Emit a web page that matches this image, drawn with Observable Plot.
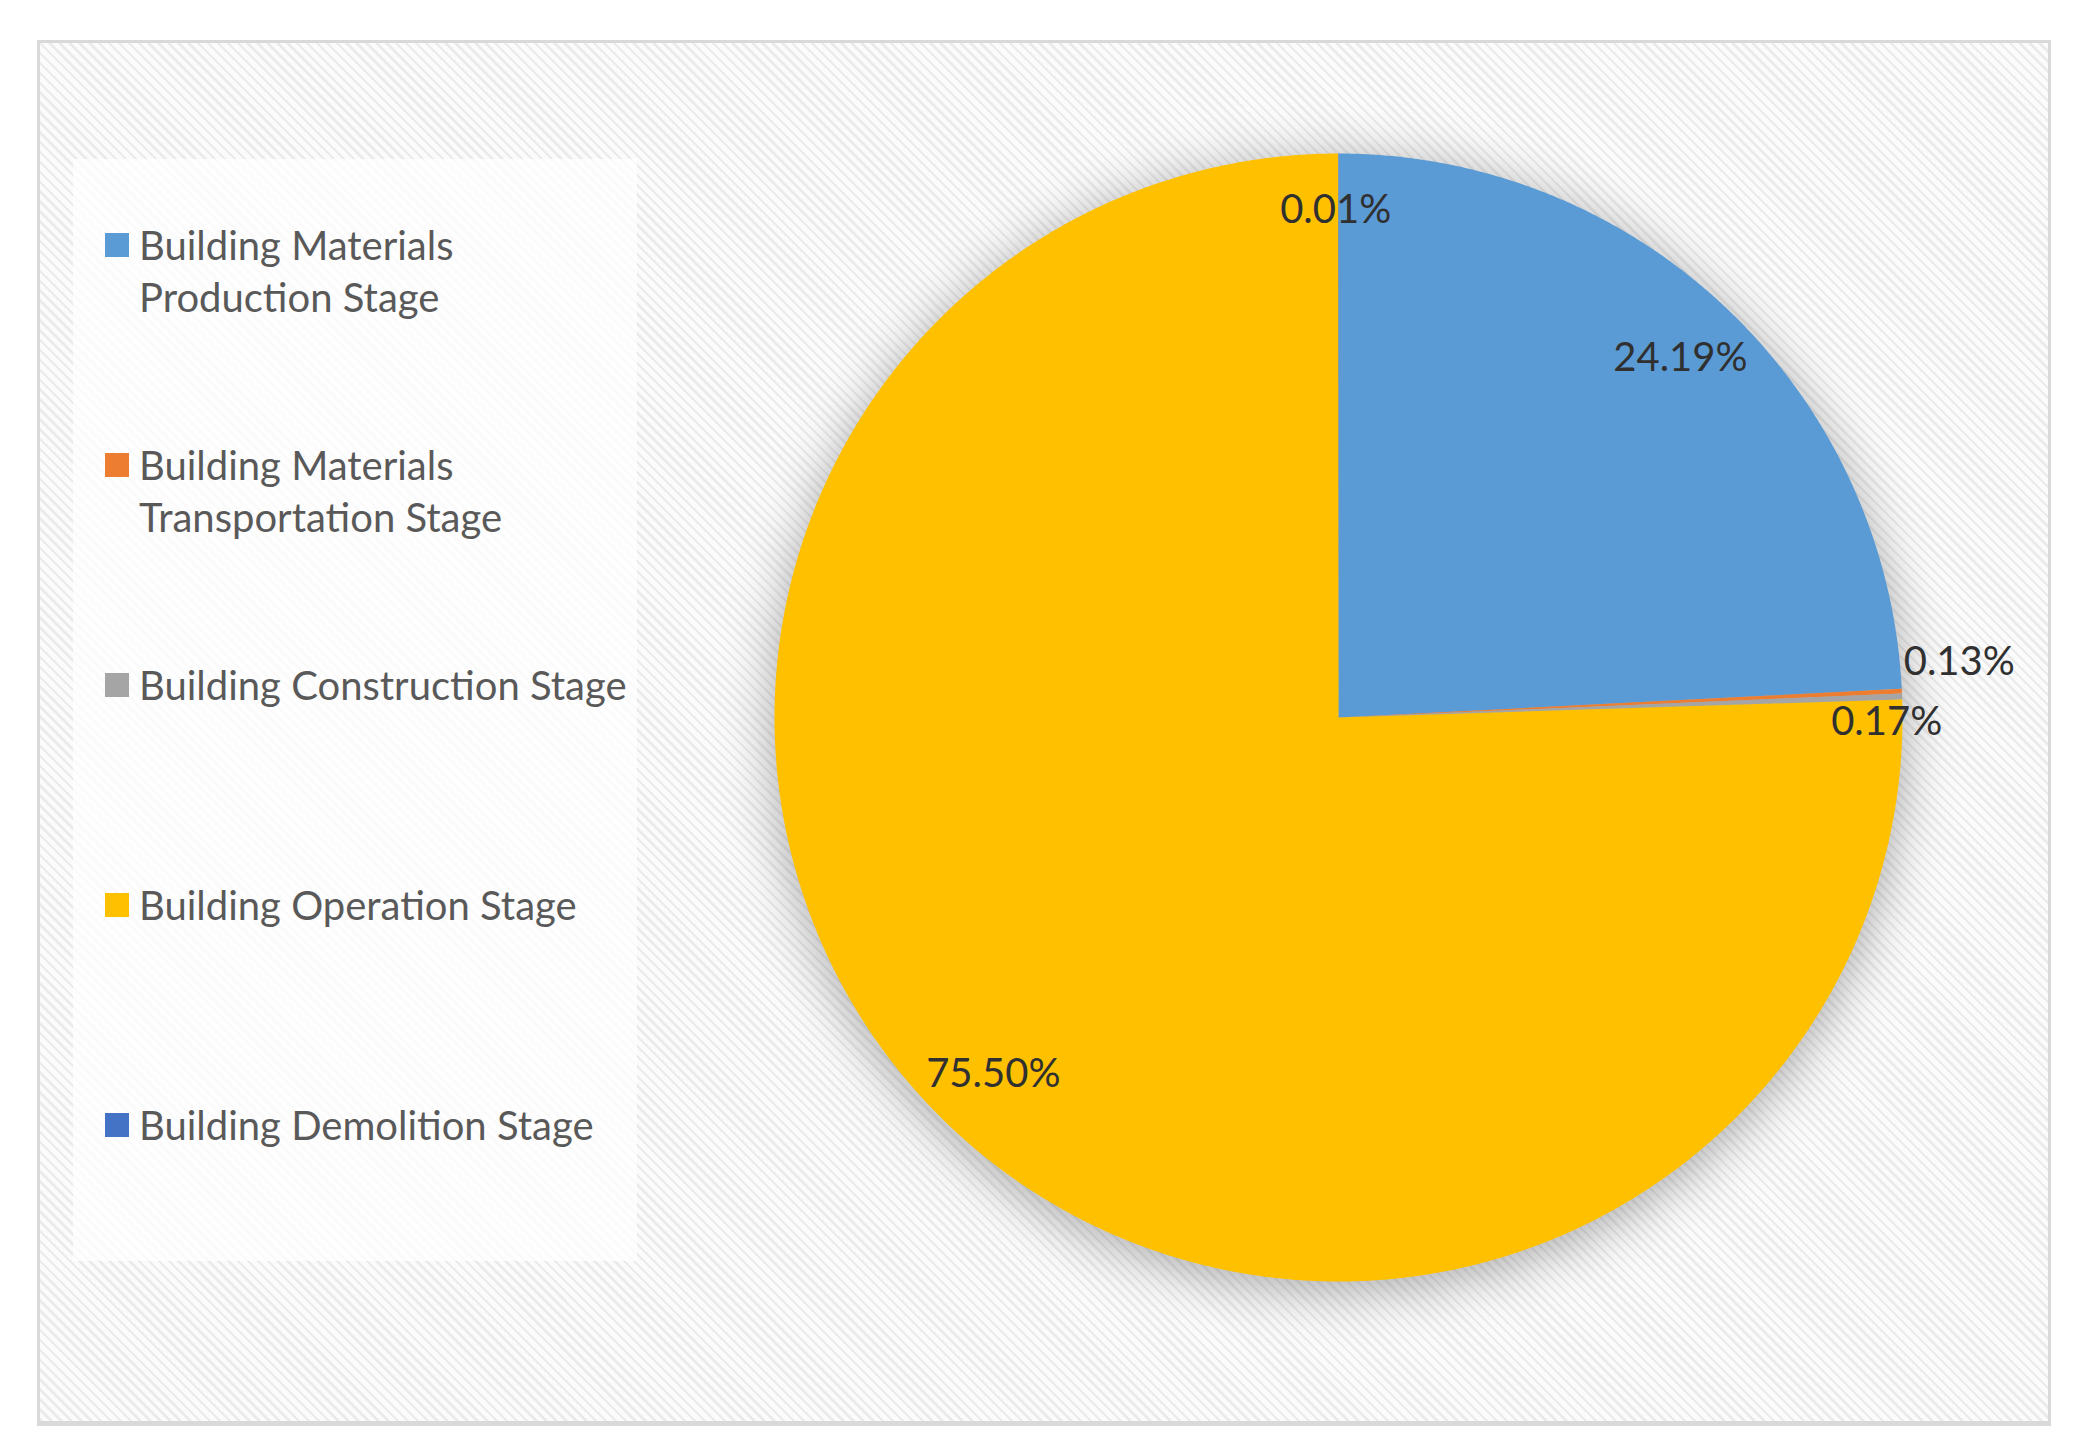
<!DOCTYPE html>
<html>
<head>
<meta charset="utf-8">
<script src="https://cdn.jsdelivr.net/npm/d3@7"></script>
<script src="https://cdn.jsdelivr.net/npm/@observablehq/plot@0.6"></script>
<style>
  html, body { margin: 0; padding: 0; background: #ffffff; }
  #page { position: relative; width: 2081px; height: 1456px; overflow: hidden; background: #fff; font-family: Lato, "Open Sans", sans-serif; }
  #frame {
    position: absolute; left: 37px; top: 40px; width: 2008px; height: 1378px;
    border: 3px solid #d9d9d9; border-bottom-width: 5px;
    background: repeating-linear-gradient(45deg, #ebebeb 0px, #ebebeb 2.5px, #fbfbfb 2.5px, #fbfbfb 7px);
  }
  #legendBox {
    position: absolute; left: 73px; top: 159px; width: 564px; height: 1102px;
    background: rgba(255,255,255,0.72);
  }
  .item { position: absolute; left: 0; width: 560px; }
  .sw { position: absolute; left: 32px; top: 14px; width: 24px; height: 24px; }
  .lab { position: absolute; left: 66px; width: 495px; font-size: 40px; line-height: 52px; color: #595959; }
  #chart { position: absolute; left: 0; top: 0; }
  #chart svg { overflow: visible; }
  #chart g[aria-label="line"] { filter: drop-shadow(0px 8px 26px rgba(0,0,0,0.33)); }
</style>
</head>
<body>
<div id="page">
  <div id="frame"></div>
  <div id="legendBox"></div>
  <div id="chart"></div>
</div>
<script>
// ---- data ----
const stages = [
  "Building Materials Production Stage",
  "Building Materials Transportation Stage",
  "Building Construction Stage",
  "Building Operation Stage",
  "Building Demolition Stage"
];
const shares = [24.19, 0.13, 0.17, 75.50, 0.01];
const colors = ["#5B9BD5", "#ED7D31", "#A5A5A5", "#FFC000", "#4472C4"];
// label placement style (radius factor, angular nudge in degrees)
const labelRadius = [0.88, 1.105, 0.972, 0.88, 0.9];
const labelShift = [0, -2.4, 2.6, 0, -0.3];

// ---- build slice outlines from the data ----
const total = d3.sum(shares);
const rows = [];
const labels = [];
let cum = 0;
stages.forEach((s, i) => {
  const a0 = cum / total * 2 * Math.PI;
  const a1 = (cum + shares[i]) / total * 2 * Math.PI;
  const n = Math.max(2, Math.ceil((a1 - a0) / (Math.PI / 720)));
  rows.push({stage: s, x: 0, y: 0});
  for (let k = 0; k <= n; k++) {
    const a = a0 + (a1 - a0) * k / n;
    rows.push({stage: s, x: Math.sin(a), y: Math.cos(a)});
  }
  const mid = (a0 + a1) / 2 + labelShift[i] * Math.PI / 180;
  labels.push({stage: s, x: labelRadius[i] * Math.sin(mid), y: labelRadius[i] * Math.cos(mid), text: shares[i].toFixed(2) + "%"});
  cum += shares[i];
});

const R = 564, CX = 1338, CY = 717, W = 2081, H = 1456;
const chart = Plot.plot({
  width: W, height: H,
  marginLeft: CX - R, marginRight: W - CX - R,
  marginTop: CY - R, marginBottom: H - CY - R,
  x: {domain: [-1, 1], axis: null},
  y: {domain: [-1, 1], axis: null},
  color: {domain: stages, range: colors},
  style: {background: "transparent", overflow: "visible"},
  marks: [
    Plot.line(rows, {x: "x", y: "y", z: "stage", fill: "stage", stroke: "none", curve: "linear-closed"}),
    Plot.text(labels, {x: "x", y: "y", text: "text", fontSize: 40, fontFamily: "Lato, 'Open Sans', sans-serif", fill: "#303030"})
  ]
});
document.getElementById("chart").appendChild(chart);

// ---- legend ----
const box = document.getElementById("legendBox");
stages.forEach((s, i) => {
  const item = document.createElement("div");
  item.className = "item";
  item.style.top = (60 + i * 220) + "px";
  const sw = document.createElement("div");
  sw.className = "sw";
  sw.style.background = colors[i];
  const lab = document.createElement("div");
  lab.className = "lab";
  lab.textContent = s;
  item.appendChild(sw);
  item.appendChild(lab);
  box.appendChild(item);
});
</script>
</body>
</html>
